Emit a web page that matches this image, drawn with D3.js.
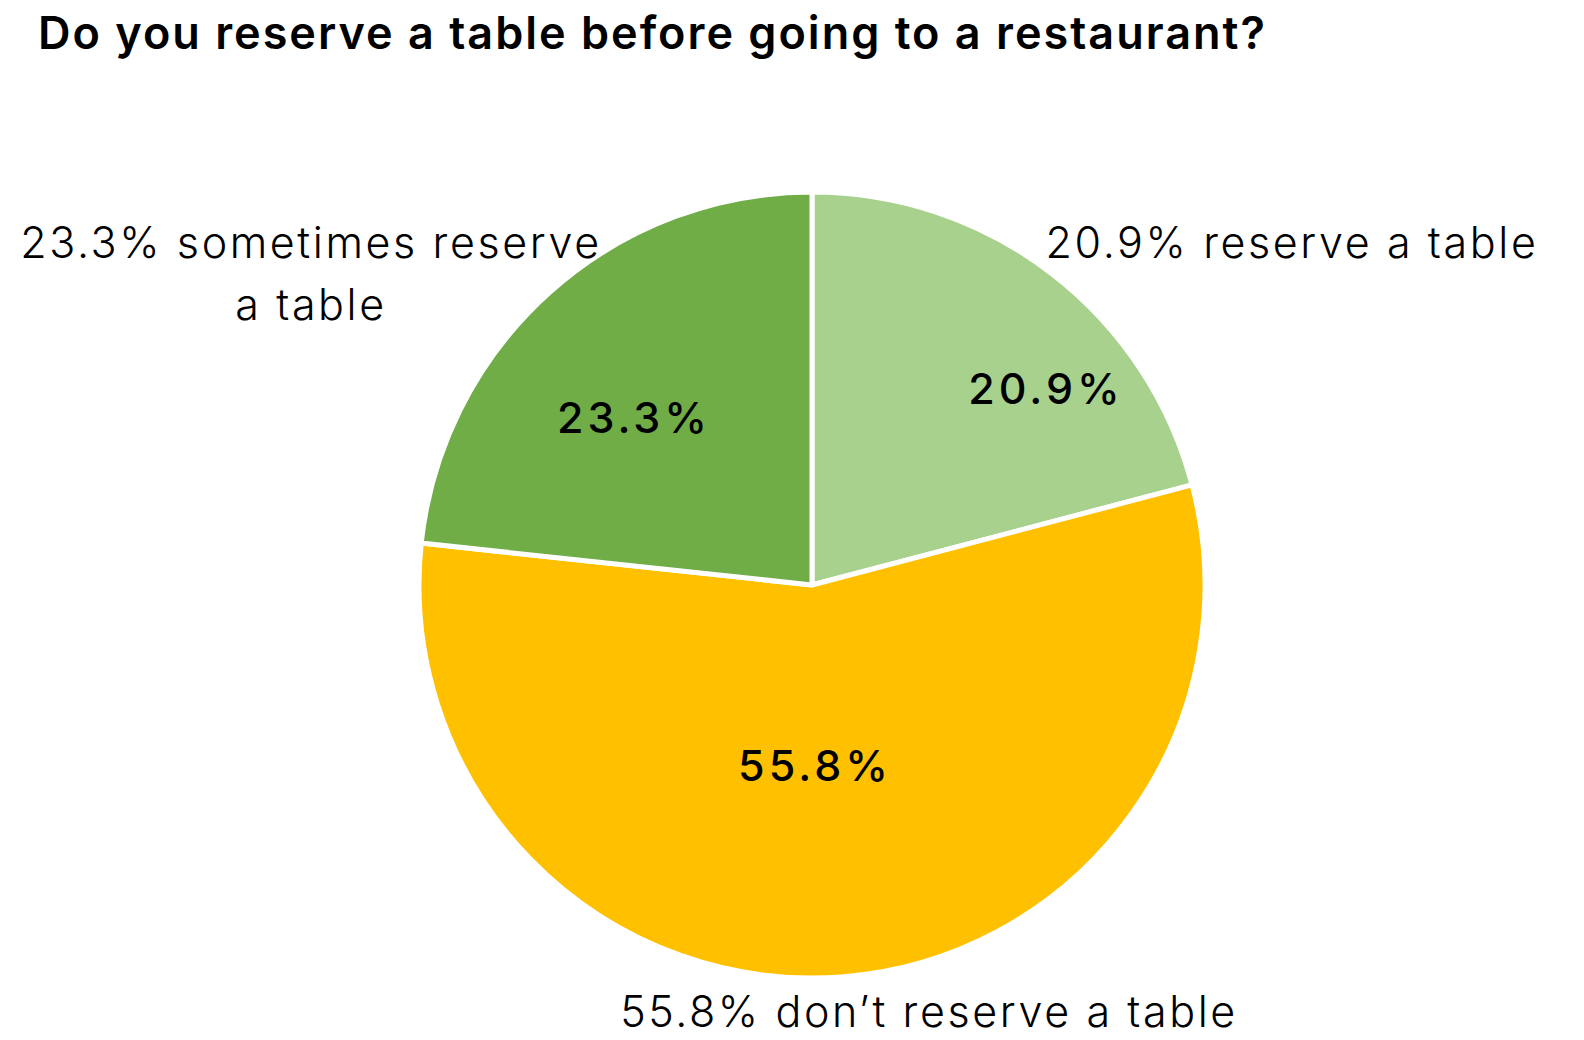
<!DOCTYPE html>
<html>
<head>
<meta charset="utf-8">
<script src="https://cdn.jsdelivr.net/npm/d3@7"></script>
<style>
  body { margin: 0; background: #fff; }
  text { font-family: Inter, "Noto Sans", sans-serif; fill: #000; }
</style>
</head>
<body>
<div id="chart"></div>
<script>
const svgWidth = 1584;
const svgHeight = 1040;

// data
const categories = ["reserve a table", "don\u2019t reserve a table", "sometimes reserve a table"];
const shares = [20.9, 55.8, 23.3];
const colours = ["#a9d18e", "#ffc000", "#70ad47"];

// label layout (offsets from pie centre), kept apart from the data
const outerLabels = [
  {dx: 479, dy: -342, lines: ["20.9% reserve a table"]},
  {dx: 116, dy: 427, lines: ["55.8% don\u2019t reserve a table"]},
  {dx: -502, dy: -342, lines: ["23.3% sometimes reserve", "a table"]}
];
const innerRadius = [304, 181, 246];
const innerNudge = [12.1, 4.0, -5.1]; // degrees off the slice middle

const cx = 812, cy = 585, radius = 393;

const svg = d3.select("#chart")
  .append("svg")
  .attr("width", svgWidth)
  .attr("height", svgHeight);

svg.append("text")
  .attr("x", 38)
  .attr("y", 49)
  .style("font-size", "45px")
  .style("font-weight", 600)
  .style("letter-spacing", "2px")
  .text("Do you reserve a table before going to a restaurant?");

const graph = svg.append("g")
  .attr("transform", `translate(${cx}, ${cy})`);

const pie = d3.pie().sort(null).value(d => d);
const arcs = pie(shares);

const arc = d3.arc().innerRadius(0).outerRadius(radius);

graph.selectAll(".slice")
  .data(arcs)
  .enter()
  .append("path")
  .attr("class", "slice")
  .attr("d", arc)
  .attr("fill", (d, i) => colours[i])
  .attr("stroke", "#fff")
  .attr("stroke-width", 5)
  .attr("stroke-linejoin", "round");

// value labels inside the slices
graph.selectAll(".value")
  .data(arcs)
  .enter()
  .append("text")
  .attr("class", "value")
  .attr("text-anchor", "middle")
  .attr("dy", "0.36em")
  .style("font-size", "43px")
  .style("font-weight", 500)
  .style("letter-spacing", "4px")
  .attr("transform", (d, i) => {
    const a = (d.startAngle + d.endAngle) / 2 + innerNudge[i] * Math.PI / 180;
    const r = innerRadius[i];
    return `translate(${r * Math.sin(a) + 2}, ${-r * Math.cos(a)})`;
  })
  .text(d => d3.format(".1f")(d.data) + "%");

// category labels outside
const outer = graph.selectAll(".cat")
  .data(outerLabels)
  .enter()
  .append("text")
  .attr("class", "cat")
  .attr("text-anchor", "middle")
  .style("font-size", "43px")
  .style("font-weight", 300)
  .style("letter-spacing", "2.6px")
  .attr("transform", d => `translate(${d.dx + 1}, ${d.dy})`);

outer.selectAll("tspan")
  .data(d => d.lines)
  .enter()
  .append("tspan")
  .attr("x", 0)
  .attr("dy", (d, i) => i === 0 ? "0.36em" : "1.42em")
  .text(d => d);
</script>
</body>
</html>
